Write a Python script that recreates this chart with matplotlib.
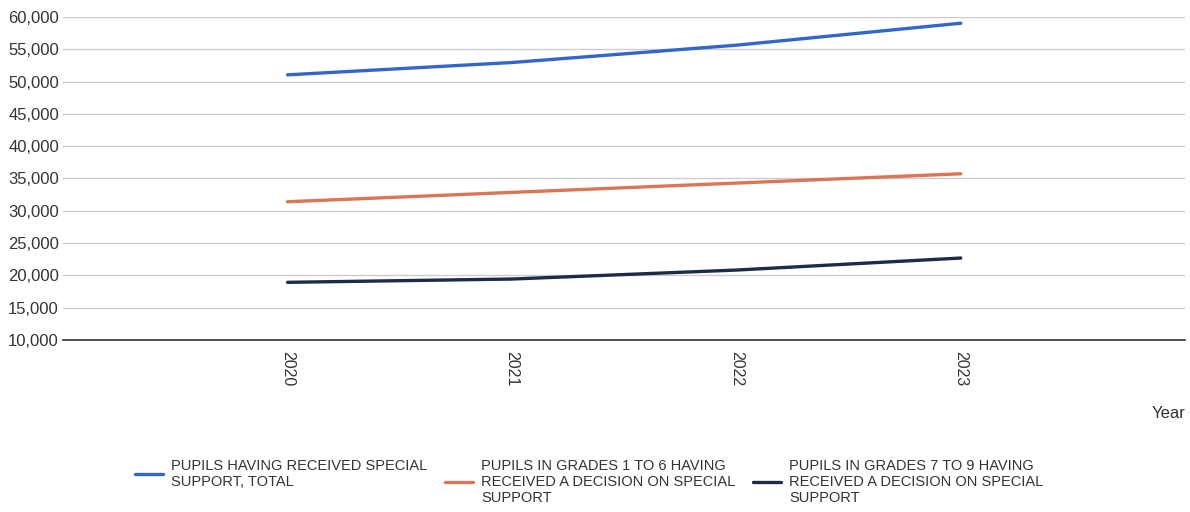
import matplotlib.pyplot as plt

years = [2020, 2021, 2022, 2023]
total_support = [51030, 52940, 55620, 59020]
grades_1_6 = [31390, 32840, 34280, 35720]
grades_7_9 = [18920, 19430, 20820, 22680]

series_labels = [
    'PUPILS HAVING RECEIVED SPECIAL\nSUPPORT, TOTAL',
    'PUPILS IN GRADES 1 TO 6 HAVING\nRECEIVED A DECISION ON SPECIAL\nSUPPORT',
    'PUPILS IN GRADES 7 TO 9 HAVING\nRECEIVED A DECISION ON SPECIAL\nSUPPORT',
]
colors = ['#3366cc', '#dc7555', '#1c2b48']

plt.rcParams['font.family'] = ['Liberation Sans', 'DejaVu Sans']

fig = plt.figure(figsize=(11.9, 5.12), dpi=100)
ax = fig.add_axes([0.053, 0.336, 0.943, 0.631])

lines = []
for vals, lab, col in zip([total_support, grades_1_6, grades_7_9], series_labels, colors):
    ln, = ax.plot(years, vals, color=col, linewidth=2.4, label=lab, solid_capstyle='round')
    lines.append(ln)

# axes limits and ticks
ax.set_xlim(2019, 2024)
ax.set_ylim(10000, 60000)
ax.set_xticks(years)
ax.set_xticklabels([str(y) for y in years], rotation=-90, fontsize=11.5, color='#333333')
ax.set_yticks(range(10000, 60001, 5000))
ax.set_yticklabels([f'{v:,}' for v in range(10000, 60001, 5000)], fontsize=12, color='#333333')
ax.tick_params(axis='both', length=0, pad=3)
ax.tick_params(axis='x', pad=8)

ax.grid(True, axis='y', color='#cccccc', linewidth=1)
ax.set_axisbelow(True)
for s in ['top', 'right', 'left']:
    ax.spines[s].set_visible(False)
ax.spines['bottom'].set_color('#333333')
ax.spines['bottom'].set_linewidth(1.2)

ax.set_xlabel('Year', loc='right', fontsize=12, color='#333333', labelpad=14)

# one legend box per series so the texts are top aligned like the original
legend_x = [0.1134, 0.3739, 0.6328]
for ln, lx in zip(lines, legend_x):
    fig.legend(handles=[ln], loc='upper left', bbox_to_anchor=(lx, 0.104), frameon=False,
               fontsize=10.5, labelcolor='#333333', handlelength=1.9, handletextpad=0.6,
               borderpad=0, borderaxespad=0)

fig.savefig('out.png', dpi=100)
